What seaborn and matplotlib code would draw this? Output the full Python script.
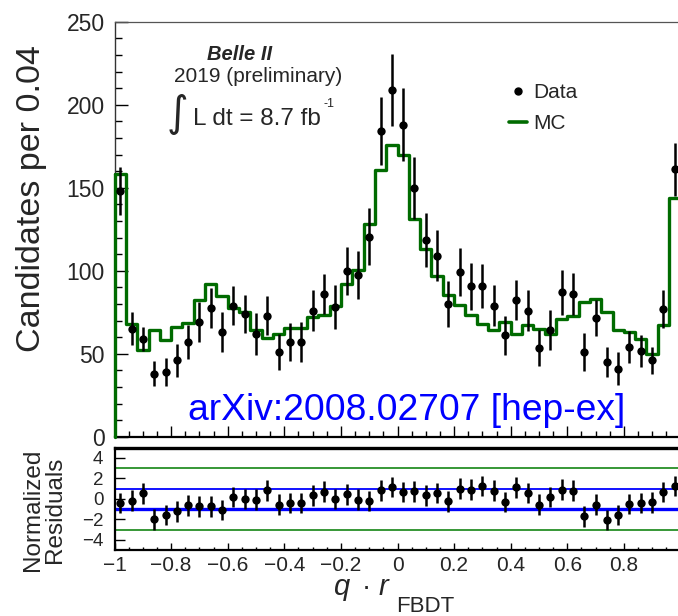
import numpy as np
import pandas as pd
import matplotlib
matplotlib.use("Agg")
import matplotlib.pyplot as plt
from matplotlib.ticker import MultipleLocator, FuncFormatter
from matplotlib.lines import Line2D
import seaborn as sns

# ---- binning: 50 bins of width 0.04 on [-1, 1] ----
bin_edges = np.linspace(-1.0, 1.0, 51)
bin_centers = 0.5 * (bin_edges[:-1] + bin_edges[1:])

# ---- candidates per bin (data) ----
data_counts = [148, 65, 59, 38, 39, 46, 57, 69, 77.5, 63,
               79, 74, 62, 73, 51, 57, 57, 76, 86, 78,
               100, 97.5, 120.5, 184, 209, 188, 150, 118.5, 109, 80,
               99, 90.5, 91, 79, 61, 82.5, 76, 53.5, 64.5, 87,
               86, 51, 71.5, 45, 41, 54, 51.5, 46, 77, 161]
data_errors = [14.3, 10, 7.2, 7.7, 8.3, 10, 10.3, 12.2, 12.2, 12.2,
               12, 11.6, 12.5, 11.6, 11, 11.5, 12, 12.5, 12, 13.2,
               14.5, 14.5, 17, 20.6, 21.8, 21.8, 18.6, 16, 15.5, 14,
               14.4, 13.9, 13.3, 12.5, 12, 12, 12.3, 11, 12, 13.5,
               12.5, 11.3, 11, 9.3, 10, 9.5, 9.5, 8, 11.3, 16]

# ---- simulated expectation (MC) ----
mc_counts = [158, 68, 52, 64, 58, 66, 68.5, 82.5, 92, 84.5,
             77.5, 75, 64, 59.5, 62, 65.5, 65.5, 72, 73.5, 79,
             92, 100.5, 128, 160.5, 175.5, 170, 131, 113, 97, 85.5,
             79.5, 73.5, 68, 64, 69, 62, 67.5, 65, 62, 71,
             73, 81, 83, 75, 64, 63, 59, 50, 67.5, 144]

# ---- normalized residuals ----
residuals = [-0.4, -0.17, 0.53, -2.0, -1.57, -1.23, -0.63, -0.73, -0.73, -1.07,
             0.2, 0.0, -0.07, 0.83, -0.57, -0.4, -0.4, 0.33, 0.7, 0.0,
             0.43, -0.07, -0.23, 0.82, 1.15, 0.67, 0.74, 0.34, 0.57, -0.25,
             1.0, 0.9, 1.23, 0.8, -0.31, 1.13, 0.57, -0.57, 0.18, 0.9,
             0.8, -1.72, -0.57, -2.05, -1.56, -0.51, -0.41, -0.34, 0.67, 1.23]
residual_errors = [1.0] * 50

hist_df = pd.DataFrame({"x": bin_centers, "data": data_counts, "err": data_errors,
                        "mc": mc_counts, "res": residuals, "res_err": residual_errors})

sns.set_style("ticks")
plt.rcParams["font.family"] = ["Liberation Sans", "DejaVu Sans"]
plt.rcParams["axes.unicode_minus"] = True

MC_GREEN = "#006b00"
W, H = 678, 616
fig = plt.figure(figsize=(W / 100, H / 100), dpi=100)


def fx(px):
    return px / W


def fy(py):
    return 1 - py / H


x_left, x_right = 114.6, 680.4
ax1 = fig.add_axes([fx(x_left), fy(436.7), (x_right - x_left) / W, (436.7 - 21.7) / H])
ax2 = fig.add_axes([fx(x_left), fy(550.0), (x_right - x_left) / W, (550.0 - 447.7) / H])

# ---- upper panel: MC histogram + data ----
sns.histplot(data=hist_df, x="x", weights="mc", bins=list(bin_edges), element="step",
             fill=False, color=MC_GREEN, linewidth=2.4, ax=ax1)
for ln in ax1.lines:
    ln.set_clip_on(False)
ax1.plot([bin_edges[0], bin_edges[0]], [0, mc_counts[0]], color=MC_GREEN,
         lw=2.4, clip_on=False, zorder=3)

ax1.errorbar(hist_df["x"], hist_df["data"], yerr=hist_df["err"], fmt="none",
             ecolor="black", elinewidth=1.8, capsize=0, zorder=4)
sns.scatterplot(data=hist_df, x="x", y="data", color="black", s=36,
                edgecolor="black", linewidth=0, ax=ax1, zorder=5, legend=False)

ax1.set_xlim(-1, 1)
ax1.set_ylim(0, 250)
ax1.set_xlabel("")
ax1.set_ylabel("")

ax1.xaxis.set_major_locator(MultipleLocator(0.2))
ax1.xaxis.set_minor_locator(MultipleLocator(0.05))
ax1.yaxis.set_major_locator(MultipleLocator(50))
ax1.yaxis.set_minor_locator(MultipleLocator(10))
ax1.tick_params(axis="x", which="both", direction="in", bottom=True, top=False,
                labelbottom=False, color="black")
ax1.tick_params(axis="x", which="major", length=8, width=1.0)
ax1.tick_params(axis="x", which="minor", length=4, width=1.0)
ax1.tick_params(axis="y", which="both", direction="in", left=True, right=False,
                labelsize=16.5, pad=7, color="black")
ax1.tick_params(axis="y", which="major", length=9.5, width=1.0)
ax1.tick_params(axis="y", which="minor", length=4.8, width=1.0)
for side in ["top", "right"]:
    ax1.spines[side].set_color("#555555")
    ax1.spines[side].set_linewidth(0.9)
ax1.spines["left"].set_color("#333333")
ax1.spines["left"].set_linewidth(1.0)
ax1.spines["bottom"].set_color("black")
ax1.spines["bottom"].set_linewidth(1.6)

legend_handles = [
    Line2D([], [], marker="o", color="black", markersize=5, linestyle="none"),
    Line2D([], [], color=MC_GREEN, lw=2.6),
]
ax1.legend(legend_handles, ["Data", "MC"], loc="upper left",
           bbox_to_anchor=(fx(509), fy(83)), bbox_transform=fig.transFigure,
           frameon=False, fontsize=15, handlelength=0.87, handletextpad=0.3,
           labelspacing=0.58, borderpad=0, borderaxespad=0)

# ---- lower panel: normalized residuals ----
ax2.axhline(3, color="#007a00", lw=1.1, zorder=1)
ax2.axhline(-3, color="#007a00", lw=1.1, zorder=1)
ax2.axhline(1, color="#0000ff", lw=1.3, zorder=1)
ax2.axhline(-1, color="#0000ff", lw=2.4, zorder=1)
ax2.errorbar(hist_df["x"], hist_df["res"], yerr=hist_df["res_err"], fmt="none",
             ecolor="black", elinewidth=1.8, capsize=0, zorder=4)
sns.scatterplot(data=hist_df, x="x", y="res", color="black", s=36,
                edgecolor="black", linewidth=0, ax=ax2, zorder=5, legend=False)
ax2.set_xlim(-1, 1)
ax2.set_ylim(-5, 5)
ax2.set_xlabel("")
ax2.set_ylabel("")


def num_fmt(v, pos):
    return ("%g" % round(v, 6)).replace("-", "\u2212")


def x_fmt(v, pos):
    # the label at the right end falls outside the canvas
    return "" if v > 0.99 else num_fmt(v, pos)


ax2.xaxis.set_major_locator(MultipleLocator(0.2))
ax2.xaxis.set_minor_locator(MultipleLocator(0.05))
ax2.xaxis.set_major_formatter(FuncFormatter(x_fmt))
ax2.yaxis.set_major_locator(MultipleLocator(2))
ax2.yaxis.set_major_formatter(FuncFormatter(num_fmt))
ax2.tick_params(axis="x", which="both", direction="in", bottom=True, top=False,
                labelsize=15, pad=4, color="black")
ax2.tick_params(axis="x", which="major", length=5, width=1.0)
ax2.tick_params(axis="x", which="minor", length=2.5, width=1.0)
ax2.tick_params(axis="y", which="major", direction="in", left=True, right=False,
                labelsize=13.5, pad=8, length=7, width=1.0, color="black")
for side in ["left", "bottom", "right"]:
    ax2.spines[side].set_color("black")
    ax2.spines[side].set_linewidth(1.6)
ax2.spines["top"].set_color("black")
ax2.spines["top"].set_linewidth(2.4)

# ---- labels and annotations ----
fig.text(fx(32), fy(198.5), "Candidates per 0.04", rotation=90,
         ha="center", va="center", fontsize=24.5)
fig.text(fx(44), fy(510), "Normalized\nResiduals", rotation=90,
         ha="center", va="center", fontsize=17.5, linespacing=1.0,
         multialignment="center")

fig.text(fx(333), fy(595), "q", fontsize=21, style="italic", ha="left", va="baseline")
fig.text(fx(366), fy(595), "\u00b7", fontsize=20, ha="center", va="baseline")
fig.text(fx(379), fy(595), "r", fontsize=21, style="italic", ha="left", va="baseline")
fig.text(fx(396), fy(612), "FBDT", fontsize=16, ha="left", va="baseline")

fig.text(fx(240), fy(54), "Belle II", fontsize=14.5, fontweight="bold",
         style="italic", ha="center", va="center")
fig.text(fx(258), fy(77), "2019 (preliminary)", fontsize=15, ha="center", va="center")
fig.text(fx(177), fy(114), "\u222b", fontsize=30, ha="center", va="center",
         family="DejaVu Sans")
fig.text(fx(193), fy(125), "L dt = 8.7 fb", fontsize=17.5, ha="left", va="baseline")
fig.text(fx(323), fy(98), "-1", fontsize=9, ha="left", va="top")

fig.text(fx(188), fy(420), "arXiv:2008.02707 [hep-ex]", fontsize=26.8,
         color="#0000ff", ha="left", va="baseline")

fig.savefig("out.png", dpi=100)
